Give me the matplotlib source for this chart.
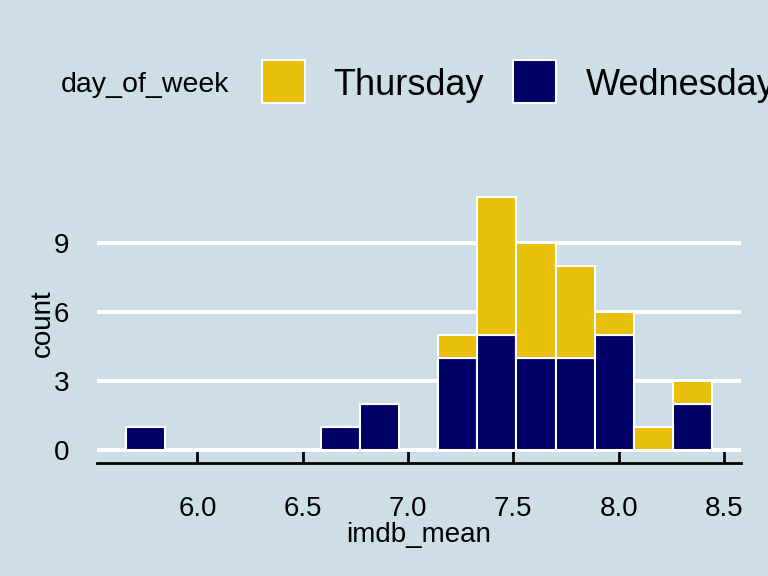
import matplotlib.pyplot as plt
import numpy as np
from matplotlib.patches import Rectangle

plt.rcParams['font.family'] = ['Liberation Sans', 'DejaVu Sans']

# histogram bins (imdb_mean) and stacked counts per day
bin_edges = np.linspace(5.661, 8.442, 16)
wednesday = [1, 0, 0, 0, 0, 1, 2, 0, 4, 5, 4, 4, 5, 0, 2]
thursday = [0, 0, 0, 0, 0, 0, 0, 0, 1, 6, 5, 4, 1, 1, 1]
days = ['Thursday', 'Wednesday']
xticks = [6.0, 6.5, 7.0, 7.5, 8.0, 8.5]
yticks = [0, 3, 6, 9]

bg = '#cddee6'
yellow = '#e8c00a'
navy = '#000066'
day_colors = {'Thursday': yellow, 'Wednesday': navy}

fig = plt.figure(figsize=(7.68, 5.76), dpi=100, facecolor=bg)
ax = fig.add_axes([96.7 / 768, 113 / 576, 644.3 / 768, 279 / 576], facecolor=bg)

lefts = bin_edges[:-1]
width = bin_edges[1] - bin_edges[0]
ax.bar(lefts, wednesday, width=width, align='edge', color=navy,
       edgecolor='white', linewidth=1.5, zorder=2)
ax.bar(lefts, thursday, width=width, bottom=wednesday, align='edge',
       color=yellow, edgecolor='white', linewidth=1.5, zorder=2)

span = bin_edges[-1] - bin_edges[0]
ax.set_xlim(bin_edges[0] - 0.05 * span, bin_edges[-1] + 0.05 * span)
top = max(np.array(wednesday) + np.array(thursday))
ax.set_ylim(-0.05 * top, top * 1.05)

for s in ['left', 'right', 'top']:
    ax.spines[s].set_visible(False)
ax.spines['bottom'].set_linewidth(2)
ax.spines['bottom'].set_color('black')

ax.set_yticks(yticks)
ax.set_xticks(xticks)
ax.set_xticklabels(['%.1f' % t for t in xticks])
ax.yaxis.grid(True, color='white', linewidth=2.9, zorder=1)
ax.set_axisbelow(True)
ax.tick_params(axis='y', length=0, pad=20, labelsize=20)
ax.tick_params(axis='x', direction='in', length=9.4, width=2, pad=24,
               labelsize=20, color='black')

ax.set_xlabel('imdb_mean', fontsize=20, labelpad=0)
ax.set_ylabel('count', fontsize=20, labelpad=-2)

# legend across the top
fig.text(61 / 768, 1 - 92 / 576, 'day_of_week', fontsize=20.5, va='baseline', ha='left')
key_x = {'Thursday': 262, 'Wednesday': 513}
text_x = {'Thursday': 333, 'Wednesday': 586}
for d in days:
    fig.add_artist(Rectangle((key_x[d] / 768, 1 - 103 / 576), 43 / 768, 43 / 576,
                             transform=fig.transFigure, facecolor=day_colors[d],
                             edgecolor='white', linewidth=1.5))
    fig.text(text_x[d] / 768, 1 - 95 / 576, d, fontsize=26, va='baseline', ha='left')

fig.savefig('out.png', dpi=100, facecolor=bg)
